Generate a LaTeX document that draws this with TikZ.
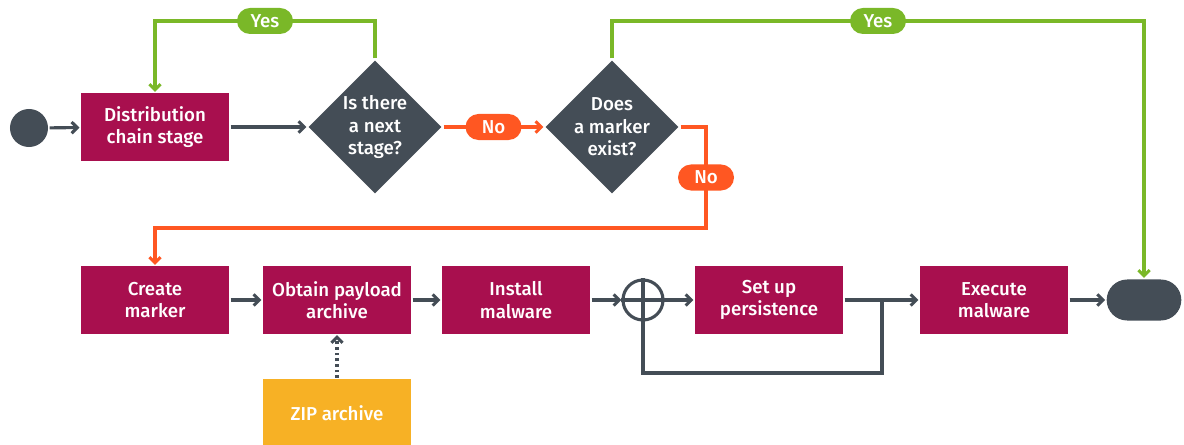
\documentclass[tikz,border=0pt]{standalone}
\usepackage{fontspec}
\setmainfont{Fira Sans}[BoldFont={Fira Sans Medium}]
\usepackage{tikz}
\usetikzlibrary{arrows.meta,shapes.geometric,shapes.misc}
\definecolor{stagered}{HTML}{A80F4E}
\definecolor{slate}{HTML}{444D56}
\definecolor{yesgreen}{HTML}{7AB828}
\definecolor{noorange}{HTML}{FF5722}
\definecolor{zipyellow}{HTML}{F7B125}

\begin{document}
\begin{tikzpicture}[x=0.025cm, y=-0.025cm, line width=2.2pt,
	>={Straight Barb[length=4pt,width=8pt]}]
	\newcommand{\txt}{\bfseries\fontsize{13.3}{16}\selectfont}
	\tikzstyle{stagebox}=[rectangle, fill=stagered, text=white, align=center, inner sep=0,
		minimum width=3.7cm, minimum height=1.675cm, font=\txt]
	\tikzstyle{question}=[diamond, fill=slate, text=white, align=center, inner sep=0,
		minimum width=3.35cm, minimum height=3.35cm, font=\txt]
	\tikzstyle{answer}=[rounded rectangle, text=white, inner sep=0,
		minimum width=1.4cm, minimum height=0.65cm, font=\txt]
	\tikzstyle{flow}=[draw=slate, ->]
	\useasboundingbox (0,0) rectangle (1184,445);
	% top row
	\node[circle, fill=slate, minimum size=0.95cm, inner sep=0] (start) at (29,128) {};
	\node[stagebox] (dist) at (155,127) {Distribution\\chain stage};
	\node[question] (next) at (375,127) {Is there\\a next\\stage?};
	\node[question] (marker) at (612,127) {Does\\a marker\\exist?};
	% bottom row
	\node[stagebox] (create) at (155,300) {Create\\marker};
	\node[stagebox] (obtain) at (337,300) {Obtain payload\\archive};
	\node[stagebox] (install) at (516,300) {Install\\malware};
	\node[circle, draw=slate, minimum size=1cm, inner sep=0] (sum) at (643,300) {};
	\node[stagebox] (persist) at (769,300) {Set up\\persistence};
	\node[stagebox] (execute) at (994,300) {Execute\\malware};
	\node[rounded rectangle, fill=slate, minimum width=2.1cm, minimum height=1.025cm] (end) at (1144,300) {};
	\node[stagebox, fill=zipyellow] (zip) at (337,413) {ZIP archive};
	\coordinate (nobend) at (706,228);
	\coordinate (loopsplit) at (882,300);
	% connectors
	\draw[flow] (start) -- (dist);
	\draw[flow] (dist) -- (next);
	\draw[->, noorange] (next) -- node[answer, fill=noorange] {No} (marker);
	\draw[->, yesgreen] (next.north) -- (next.north |- 0,21)
		-- node[answer, fill=yesgreen] {Yes} (dist.north |- 0,21) -- (dist.north);
	\draw[->, yesgreen] (marker.north) -- (marker.north |- 0,21)
		-- node[answer, fill=yesgreen] {Yes} (end.north |- 0,21) -- (end.north);
	\draw[->, noorange] (marker.east) -- (nobend |- marker.east)
		-- node[answer, fill=noorange] {No} (nobend) -- (create.north |- nobend) -- (create.north);
	\foreach \a/\b in {create/obtain, obtain/install, install/sum, sum/persist, persist/execute, execute/end}
		{\draw[flow] (\a) -- (\b);}
	\draw[slate] (sum.north) -- (sum.south);
	\draw[slate] (sum.west) -- (sum.east);
	\draw[slate] (loopsplit) -- (loopsplit |- 0,373) -| (sum.south);
	\draw[flow, dash pattern=on 2pt off 2pt] (zip) -- (obtain);
\end{tikzpicture}
\end{document}
